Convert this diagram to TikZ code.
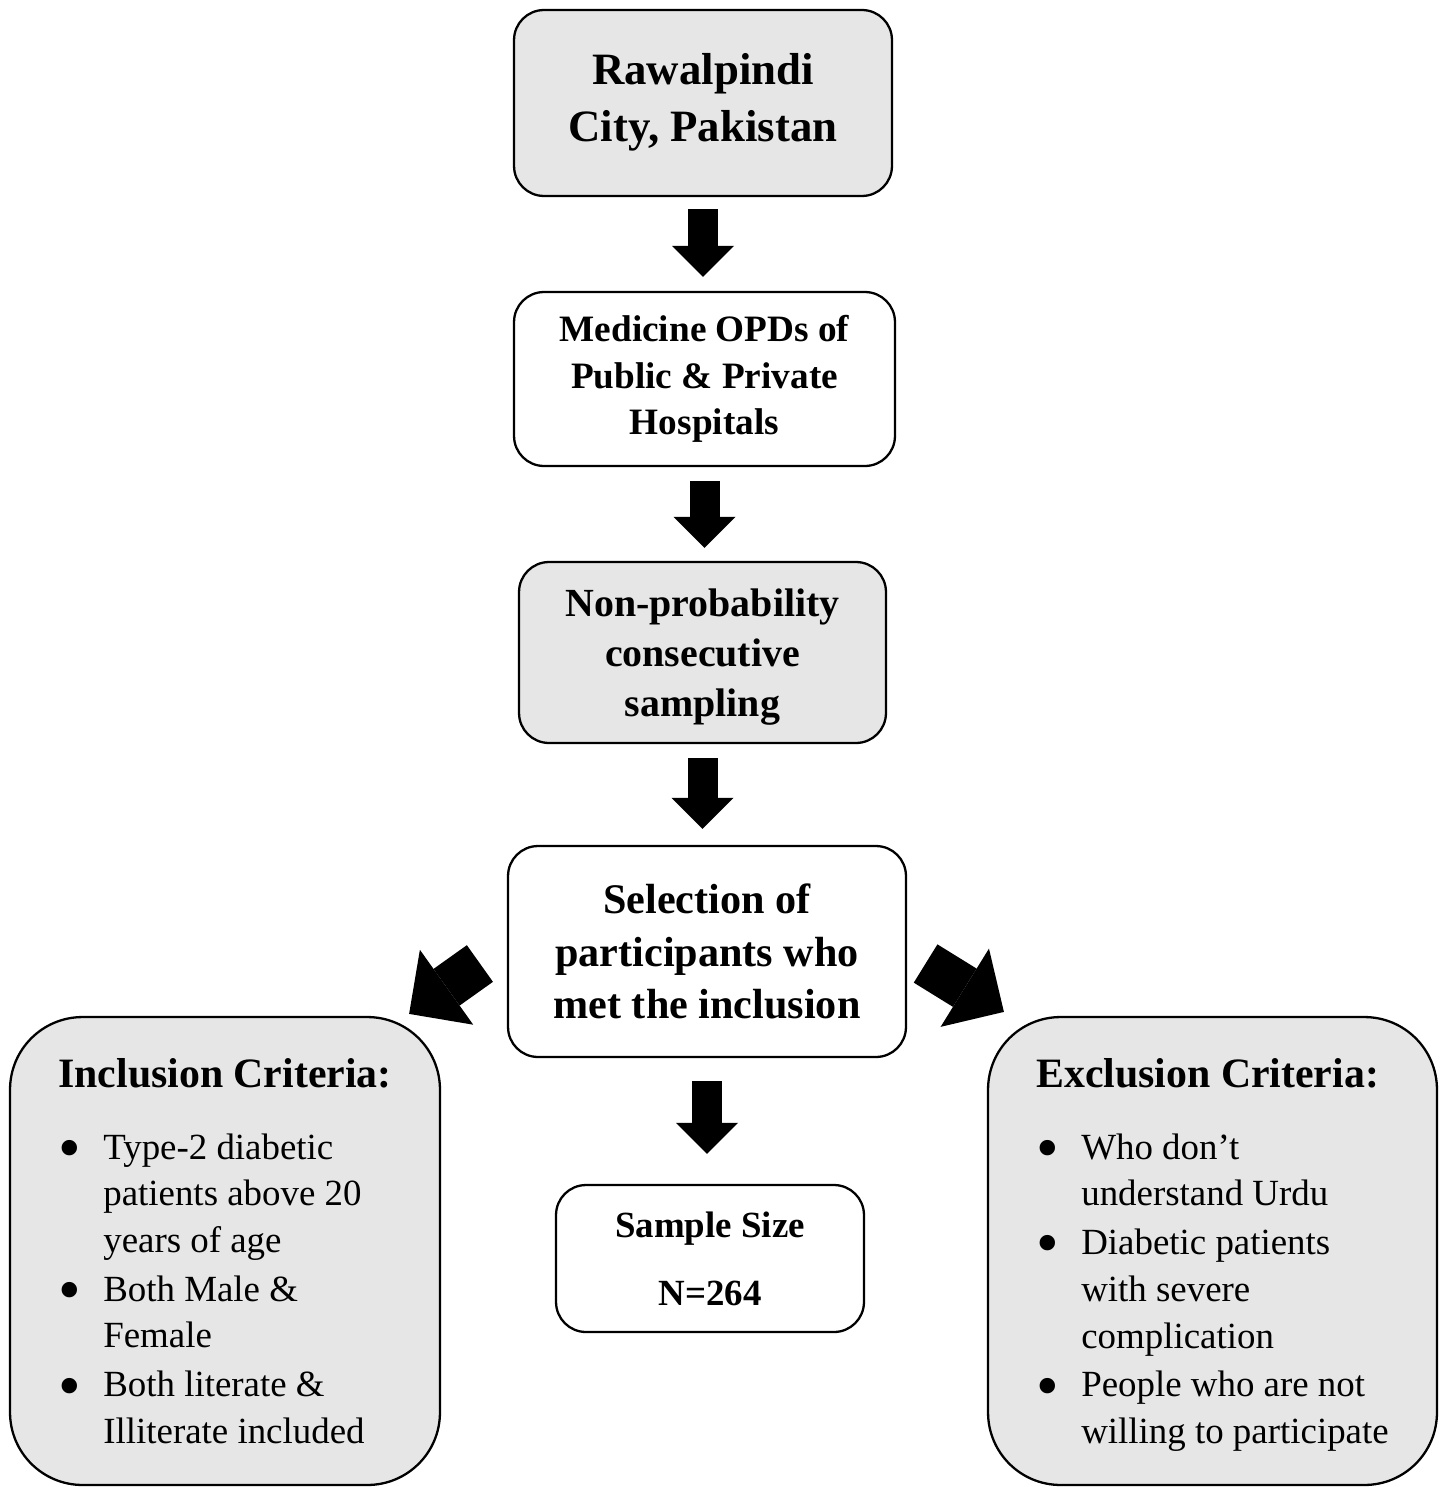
\documentclass[tikz,border=0pt]{standalone}
\usepackage{fontspec}
\setmainfont{Liberation Serif}
\usetikzlibrary{positioning,arrows.meta,calc}
\definecolor{boxgray}{HTML}{E7E6E6}
\tikzset{
  flowbox/.style ={draw=black, rounded corners=0.6cm, line width=1.3pt, fill=#1,
                   align=center, inner sep=0pt},
  flowbox/.default=white,
  critbox/.style ={draw=black, rounded corners=1.45cm, line width=1.3pt, fill=boxgray,
                   align=left, inner sep=0pt, minimum height=9.36cm,
                   font=\fontsize{21pt}{26.6pt}\selectfont},
  downarr/.style ={-{Triangle[length=0.62cm 0, width=1.24cm 0, line width=0pt 0]}, line width=0.6cm},
  sidearr/.style ={-{Triangle[length=0.92cm 0, width=1.84cm 0, line width=0pt 0]}, line width=0.9cm},
}
\newcommand{\bul}{\makebox[0.9cm][l]{\raisebox{-0.28em}{\scalebox{1.75}{\textbullet}}}}
\newcommand{\ind}{\hspace*{0.9cm}}

\begin{document}
\begin{tikzpicture}[x=0.02cm, y=-0.02cm]
\useasboundingbox (0,0) rectangle (1445,1487);
% ---- main column
\node[flowbox=boxgray, minimum width=7.56cm, minimum height=3.72cm,
      font=\fontsize{25.5pt}{32.3pt}\selectfont\bfseries] (city) at (703,103) {Rawalpindi\\City, Pakistan\\[-0.92cm]};
\node[flowbox, minimum width=7.62cm, minimum height=3.48cm,
      font=\fontsize{21.2pt}{26.6pt}\selectfont\bfseries] (opd) at (704.5,379) {Medicine OPDs of\\Public \& Private\\Hospitals};
\node[flowbox=boxgray, minimum width=7.34cm, minimum height=3.62cm,
      font=\fontsize{22.7pt}{28.3pt}\selectfont\bfseries] (samp) at (702.5,652.5) {Non-probability\\consecutive\\\smash{sampling}};
\node[flowbox, minimum width=7.96cm, minimum height=4.22cm,
      font=\fontsize{24pt}{29.8pt}\selectfont\bfseries] (sel) at (707,951.5) {Selection of\\participants who\\met the inclusion};
\node[flowbox, minimum width=6.16cm, minimum height=2.94cm,
      font=\fontsize{21pt}{26.6pt}\selectfont\bfseries] (size) at (710,1258.5) {Sample Size\\[0.42cm]N=264};

% ---- criteria boxes
\node[critbox, minimum width=8.6cm] (incl) at (225,1251) {%
  {\fontsize{23.8pt}{26.6pt}\selectfont\bfseries Inclusion Criteria:}\\[0.5cm]
  \bul Type-2 diabetic\\ \ind patients above 20\\ \ind years of age\\[0.04cm]
  \bul Both Male \&\\ \ind Female\\[0.04cm]
  \bul Both literate \&\\ \ind Illiterate included};
\node[critbox, minimum width=8.98cm] (excl) at (1212.5,1251) {%
  {\fontsize{23.8pt}{26.6pt}\selectfont\bfseries Exclusion Criteria:}\\[0.5cm]
  \bul Who don’t\\ \ind understand Urdu\\[0.04cm]
  \bul Diabetic patients\\ \ind with severe\\ \ind complication\\[0.04cm]
  \bul People who are not\\ \ind \smash{willing to participate}};

% ---- block arrows
\draw[downarr, shorten <=0.24cm, shorten >=0.28cm] (city.south) -- (city.south |- opd.north);
\draw[downarr, shorten <=0.28cm, shorten >=0.26cm] (opd.south) -- (opd.south |- samp.north);
\draw[downarr, shorten <=0.28cm, shorten >=0.32cm] (samp.south) -- (samp.south |- sel.north);
\draw[downarr, shorten <=0.46cm, shorten >=0.6cm] (sel.south) -- (sel.south |- size.north);
\draw[sidearr] ([shift={(-27,12)}]sel.west) -- ([shift={(-32,-2)}]incl.north east);
\draw[sidearr] ([shift={(18.5,12)}]sel.east) -- ([shift={(17,-4)}]excl.north west);
\end{tikzpicture}
\end{document}
